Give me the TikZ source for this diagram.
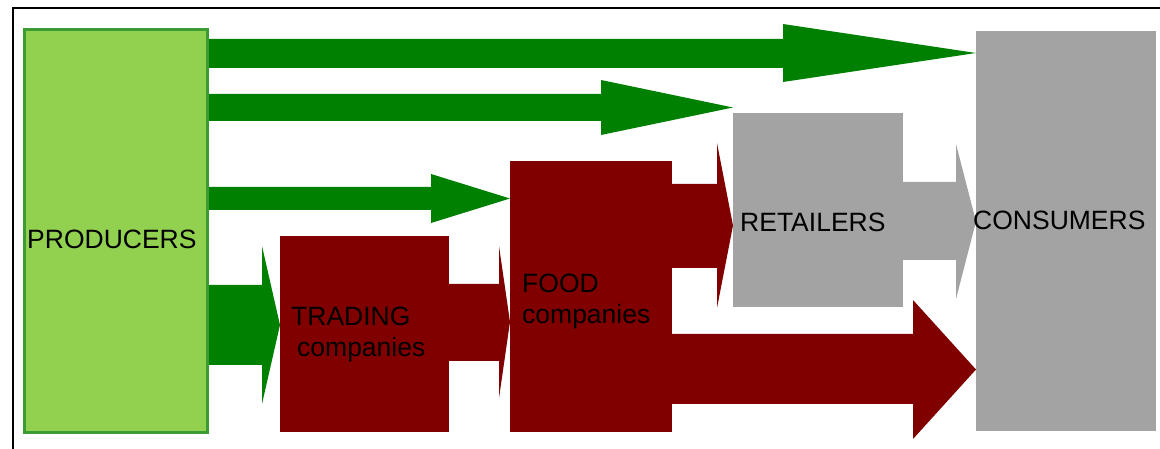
\documentclass[tikz,border=0pt]{standalone}
\usepackage{fontspec}
\setmainfont{Liberation Sans}
\usepackage{tikz}
\usetikzlibrary{calc, positioning, backgrounds}
\definecolor{prodgreen}{HTML}{92D050}
\definecolor{prodedge}{HTML}{3C9C34}
\definecolor{flowgreen}{HTML}{008000}
\definecolor{flowred}{HTML}{800000}
\definecolor{boxgray}{HTML}{A3A3A3}
\tikzset{
  box/.style={inner sep=0pt, outer sep=0pt, anchor=north west},
  boxtext/.style={inner sep=0pt, font=\fontsize{26.5bp}{31bp}\selectfont, align=left}
}
% block arrow: colour, from, to, head base x, shaft top, shaft bottom, head top, head bottom
\newcommand{\flow}[8]{%
  \fill[#1] (#2 |- 0,#5) -- (#4,#5) -- (#4,#7) -- ($(#3 |- 0,#7)!0.5!(#3 |- 0,#8)$)
    -- (#4,#8) -- (#4,#6) -- (#2 |- 0,#6) -- cycle;}

\begin{document}
\begin{tikzpicture}[x=1bp, y=-1bp]
\useasboundingbox (0,0) rectangle (1160,449);

% Frame
\draw[line width=2bp] (13,449) -- (13,8.5) -- (1160,8.5);

% Boxes
\node[box, fill=prodgreen, draw=prodedge, line width=3bp, minimum width=183bp, minimum height=402bp] (prod) at (24,30) {};
\node[box, fill=flowred, minimum width=169bp, minimum height=196bp] (trad) at (280,236) {};
\node[box, fill=flowred, minimum width=162bp, minimum height=271bp] (food) at (510,161) {};
\node[box, fill=boxgray, minimum width=170bp, minimum height=194bp] (ret) at (733,113) {};
\node[box, fill=boxgray, minimum width=180bp, minimum height=400bp] (cons) at (976,31) {};

% Flows
\begin{pgfonlayer}{background}
\flow{flowgreen}{prod.east}{cons.west}{783}{39}{68}{24}{82}
\flow{flowgreen}{prod.east}{ret.west}{601}{94}{121}{80}{135}
\flow{flowgreen}{prod.east}{food.west}{431}{187}{210}{174}{223}
\flow{flowgreen}{prod.east}{trad.west}{262}{285}{365}{246}{404}
\flow{flowred}{trad.east}{food.west}{499}{284}{361}{246}{398}
\flow{flowred}{food.east}{ret.west}{717}{184}{268}{143}{308}
\flow{flowred}{food.east}{cons.west}{913}{334}{404}{300}{439}
\flow{boxgray}{ret.east}{cons.west}{956}{182}{260}{144}{299}
\end{pgfonlayer}

% Labels
\node[boxtext, anchor=base west] (prodtext) at (27,249) {PRODUCERS};
\node[boxtext, anchor=north west] (tradtext) at (291,307) {TRADING\\\hspace{6bp}companies};
\node[boxtext, anchor=north west] (foodtext) at (522,274) {FOOD\\companies};
\node[boxtext, anchor=base west] (rettext) at (740,232) {RETAILERS};
\node[boxtext, anchor=base west] (constext) at (973,230) {CONSUMERS};
\end{tikzpicture}
\end{document}
